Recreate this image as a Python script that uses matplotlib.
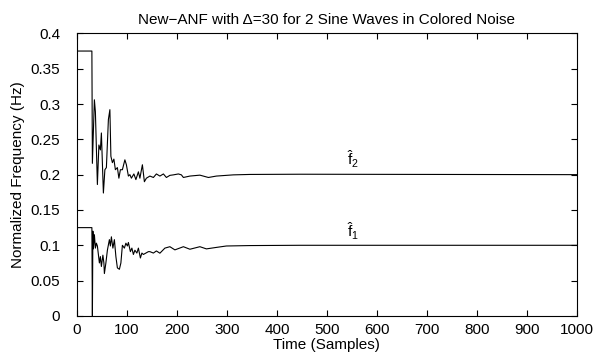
import numpy as np
import matplotlib
matplotlib.use("Agg")
import matplotlib.pyplot as plt

plt.rcParams["font.family"] = ["Liberation Sans", "DejaVu Sans"]
plt.rcParams["mathtext.fontset"] = "custom"
plt.rcParams["mathtext.rm"] = "Liberation Sans"
plt.rcParams["mathtext.it"] = "Liberation Sans"

# estimated frequency of sine wave 2
t2 = [0, 30, 31, 35, 37, 41, 44, 47, 49, 53, 56, 59, 63, 66, 68, 71, 74, 77,
      81, 84, 87, 91, 96, 99, 103, 106, 109, 114, 118, 123, 126, 131, 135,
      139, 146, 153, 159, 166, 173, 179, 186, 193, 203, 209, 213, 226, 246,
      263, 279, 313, 346, 446, 1000]
f2 = [0.375, 0.375, 0.216, 0.306, 0.289, 0.186, 0.242, 0.235, 0.259, 0.174,
      0.207, 0.210, 0.278, 0.292, 0.226, 0.217, 0.222, 0.207, 0.210, 0.195,
      0.207, 0.207, 0.221, 0.214, 0.198, 0.200, 0.195, 0.201, 0.193, 0.204,
      0.195, 0.214, 0.190, 0.195, 0.198, 0.196, 0.201, 0.198, 0.201, 0.196,
      0.199, 0.1997, 0.201, 0.1997, 0.196, 0.198, 0.1993, 0.196, 0.198,
      0.1997, 0.2003, 0.2006, 0.2]

# estimated frequency of sine wave 1
t1 = [0, 30, 31, 32, 33, 35, 37, 39, 41, 45, 47, 49, 52, 54, 55, 58, 61, 65,
      67, 69, 72, 75, 78, 81, 85, 88, 91, 95, 98, 101, 103, 107, 110, 113,
      116, 120, 123, 127, 130, 133, 138, 143, 146, 153, 159, 166, 176, 186,
      196, 213, 226, 246, 259, 279, 299, 346, 446, 1000]
f1 = [0.125, 0.125, 0.0, 0.120, 0.095, 0.115, 0.096, 0.103, 0.099, 0.075,
      0.084, 0.070, 0.086, 0.075, 0.060, 0.075, 0.093, 0.108, 0.099, 0.112,
      0.096, 0.108, 0.084, 0.068, 0.066, 0.075, 0.100, 0.096, 0.103, 0.099,
      0.104, 0.091, 0.096, 0.087, 0.093, 0.089, 0.096, 0.082, 0.089, 0.087,
      0.089, 0.091, 0.091, 0.089, 0.092, 0.0888, 0.096, 0.098, 0.0935,
      0.098, 0.0944, 0.098, 0.0949, 0.097, 0.099, 0.0996, 0.1, 0.1]

fig = plt.figure(figsize=(5.96, 3.59), dpi=100)
ax = fig.add_axes([0.129, 0.120, 0.839, 0.787])

ax.plot(t2, f2, 'k-', lw=0.8)
ax.plot(t1, f1, 'k-', lw=0.8)

ax.text(552, 0.206, r'$\hat{f}_2$', ha='center', va='bottom', fontsize=11)
ax.text(552, 0.104, r'$\hat{f}_1$', ha='center', va='bottom', fontsize=11)

ax.set_xlim(0, 1000)
ax.set_ylim(0, 0.4)
ax.set_xticks(np.arange(0, 1001, 100))
ax.set_yticks(np.arange(0, 0.41, 0.05))
ax.set_yticklabels(["0", "0.05", "0.1", "0.15", "0.2", "0.25", "0.3", "0.35", "0.4"])
ax.tick_params(direction='in', top=True, right=True, labelsize=11, length=4, width=0.8)
ax.tick_params(axis='y', pad=12)
ax.tick_params(axis='x', pad=5)
for s in ax.spines.values():
    s.set_linewidth(0.8)

ax.set_xlabel('Time (Samples)', fontsize=11, labelpad=1)
ax.set_ylabel('Normalized Frequency (Hz)', fontsize=11, labelpad=4)
ax.set_title('New\u2212ANF with \u0394=30 for 2 Sine Waves in Colored Noise', fontsize=11, pad=7)

plt.savefig('out.png', dpi=100)
